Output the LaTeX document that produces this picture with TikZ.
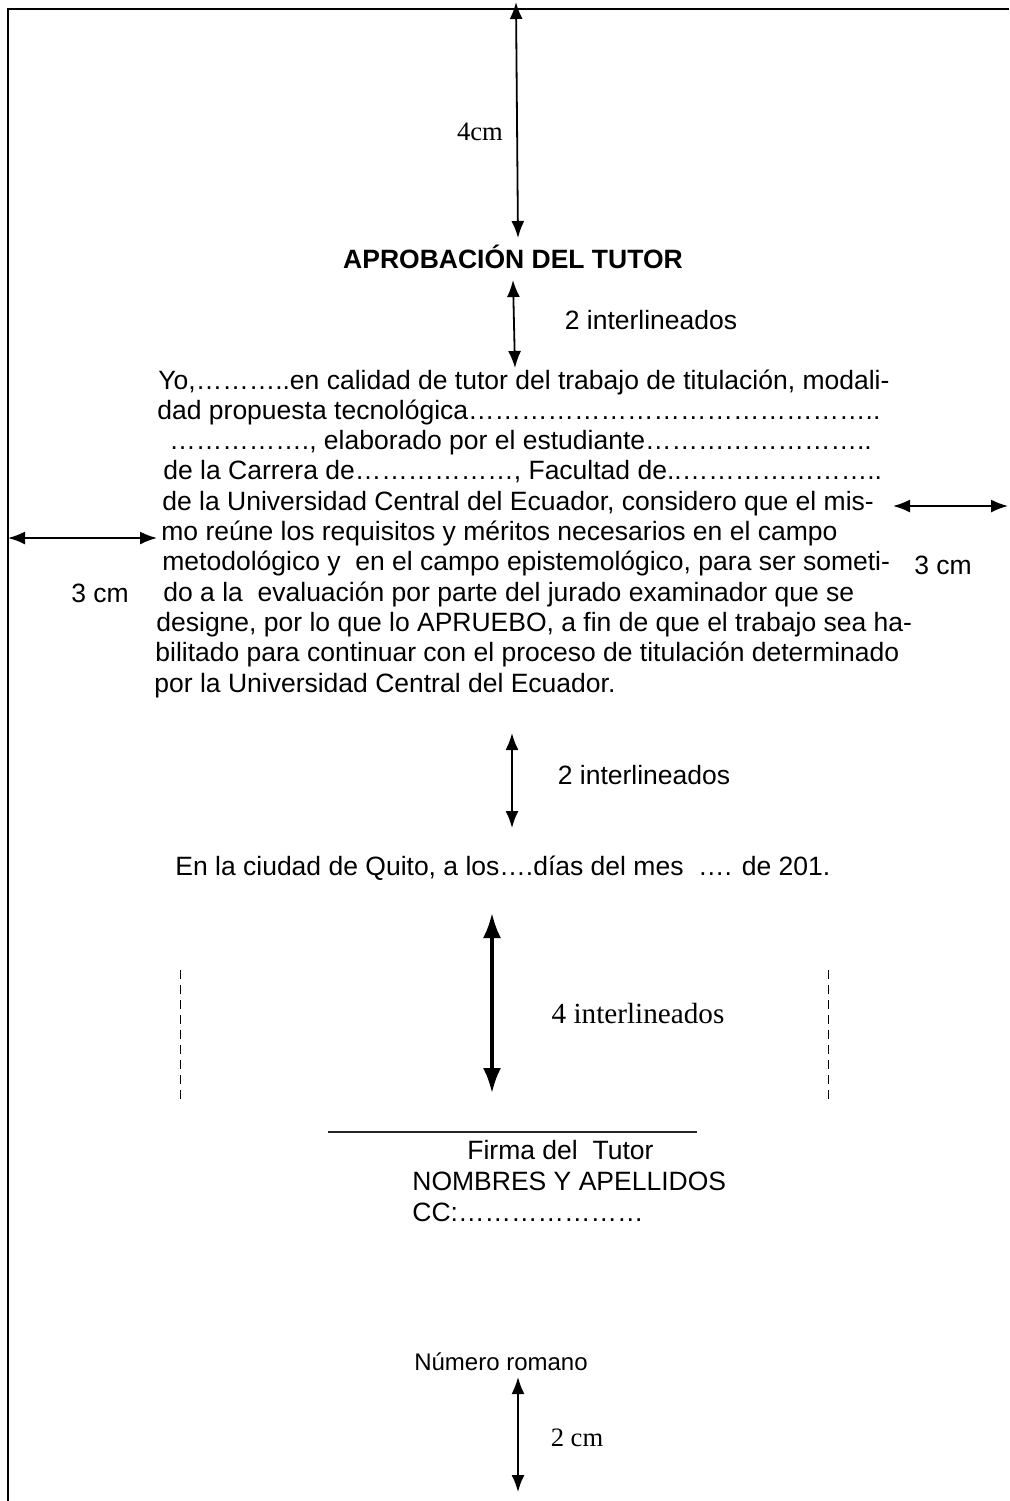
\documentclass[tikz,border=0pt]{standalone}
\usepackage{fontspec}
\setmainfont{Liberation Sans}
\newfontfamily\tiempos{Liberation Serif}
\usetikzlibrary{arrows.meta}
\usetikzlibrary{positioning}
\tikzset{cota/.style = {{Latex[length=8.5pt,width=6.5pt]}-{Latex[length=8.5pt,width=6.5pt]},
                        line width=0.9pt}}
\tikzset{cotagruesa/.style = {{Latex[length=12.5pt,width=9pt]}-{Latex[length=12.5pt,width=9pt]},
                              line width=1.7pt}}
\tikzset{linea/.style = {anchor=base west, inner sep=0pt,
                         font=\fontsize{13.25}{15}\selectfont}}
\tikzset{rotulo/.style = {inner sep=0pt, font=\fontsize{13.25}{15}\selectfont}}
\tikzset{rotuloserif/.style = {inner sep=0pt, font=\tiempos\fontsize{13.3}{15}\selectfont}}
\tikzset{guia/.style = {line width=0.5pt, dash pattern=on 4.5pt off 3pt}}
\newcommand{\puntos}[1]{\foreach \k in {1,...,#1}{…}}

\begin{document}
\begin{tikzpicture}[x=0.5pt, y=-0.5pt]
    \useasboundingbox (0, 0) rectangle (1009, 1501);

    % margen de la hoja
    \draw [line width=1pt] (1009, 9) -- (8, 9) -- (8, 1501);

    % 4 cm arriba
    \coordinate (sup1) at (516, 2);
    \coordinate (sup2) at (518, 238);
    \draw [cota] (sup1) -- (sup2);
    \node [rotuloserif] (cuatrocm) at (480, 132) {4cm};

    \node [inner sep=0pt, font=\bfseries\fontsize{13.25}{15}\selectfont] (titulo) at (513, 257) {APROBACIÓN DEL TUTOR};

    \coordinate (int1a) at (513, 280);
    \coordinate (int1b) at (515, 368);
    \draw [cota] (int1a) -- (int1b);
    \node [rotulo] (inter1) at (651, 320) {2 interlineados};

    % texto del cuerpo
    \node [linea] (l1) at (158, 389) {Yo,\puntos{3}..en calidad de tutor del trabajo de titulación, modali-};
    \node [linea] (l2) at (157, 419.3) {dad propuesta tecnológica\puntos{15}..};
    \node [linea] (l3) at (169, 449.6) {\puntos{5}., elaborado por el estudiante\puntos{8}..};
    \node [linea] (l4) at (163, 479.9) {de la Carrera de\puntos{6}, Facultad de..\puntos{7}..};
    \node [linea] (l5) at (162, 510.2) {de la Universidad Central del Ecuador, considero que el mis-};
    \node [linea] (l6) at (161, 540.5) {mo reúne los requisitos y méritos necesarios en el campo};
    \node [linea] (l7) at (162, 570.8) {metodológico y\ \ en el campo epistemológico, para ser someti-};
    \node [linea] (l8) at (163, 601.1) {do a la\ \ evaluación por parte del jurado examinador que se};
    \node [linea] (l9) at (156, 631.4) {designe, por lo que lo APRUEBO, a fin de que el trabajo sea ha-};
    \node [linea] (l10) at (155, 661.7) {bilitado para continuar con el proceso de titulación determinado};
    \node [linea] (l11) at (154, 692) {por la Universidad Central del Ecuador.};

    % margenes laterales
    \coordinate (izq1) at (8, 538);
    \coordinate (izq2) at (157, 538);
    \draw [cota] (izq1) -- (izq2);
    \node [rotulo] (tresizq) at (100, 593) {3 cm};

    \coordinate (der1) at (893, 506);
    \coordinate (der2) at (1008, 506);
    \draw [cota] (der1) -- (der2);
    \node [rotulo] (tresder) at (943, 565) {3 cm};

    \coordinate (int2a) at (512, 733);
    \coordinate (int2b) at (512, 828);
    \draw [cota] (int2a) -- (int2b);
    \node [rotulo] (inter2) at (644, 775) {2 interlineados};

    \node [linea, anchor=west] (fecha) at (175, 868) {En la ciudad de Quito, a los….días del mes\ \ …. de 201.};

    \coordinate (int4a) at (492, 913);
    \coordinate (int4b) at (492, 1093);
    \draw [cotagruesa] (int4a) -- (int4b);
    \node [inner sep=0pt, font=\tiempos\fontsize{14.6}{16}\selectfont] (inter4) at (638, 1013) {4 interlineados};

    \draw [guia] (180, 970) -- (180, 1100);
    \draw [guia] (828, 970) -- (828, 1100);

    % firma
    \coordinate (firma1) at (328, 1132);
    \coordinate (firma2) at (697, 1132);
    \draw [line width=0.7pt, black!85] (firma1) -- (firma2);
    \node [linea] (firma) at (467, 1159) {Firma del\ \ Tutor};
    \node [linea] (nombres) at (412, 1190) {NOMBRES Y APELLIDOS};
    \node [linea] (cedula) at (412, 1221) {CC:\puntos{7}};

    % pie de pagina
    \node [inner sep=0pt, font=\fontsize{12}{14}\selectfont] (romano) at (501, 1362) {Número romano};
    \coordinate (pie1) at (518, 1377);
    \coordinate (pie2) at (518, 1492);
    \draw [cota] (pie1) -- (pie2);
    \node [rotuloserif] (doscm) at (577, 1438) {2 cm};
\end{tikzpicture}
\end{document}
